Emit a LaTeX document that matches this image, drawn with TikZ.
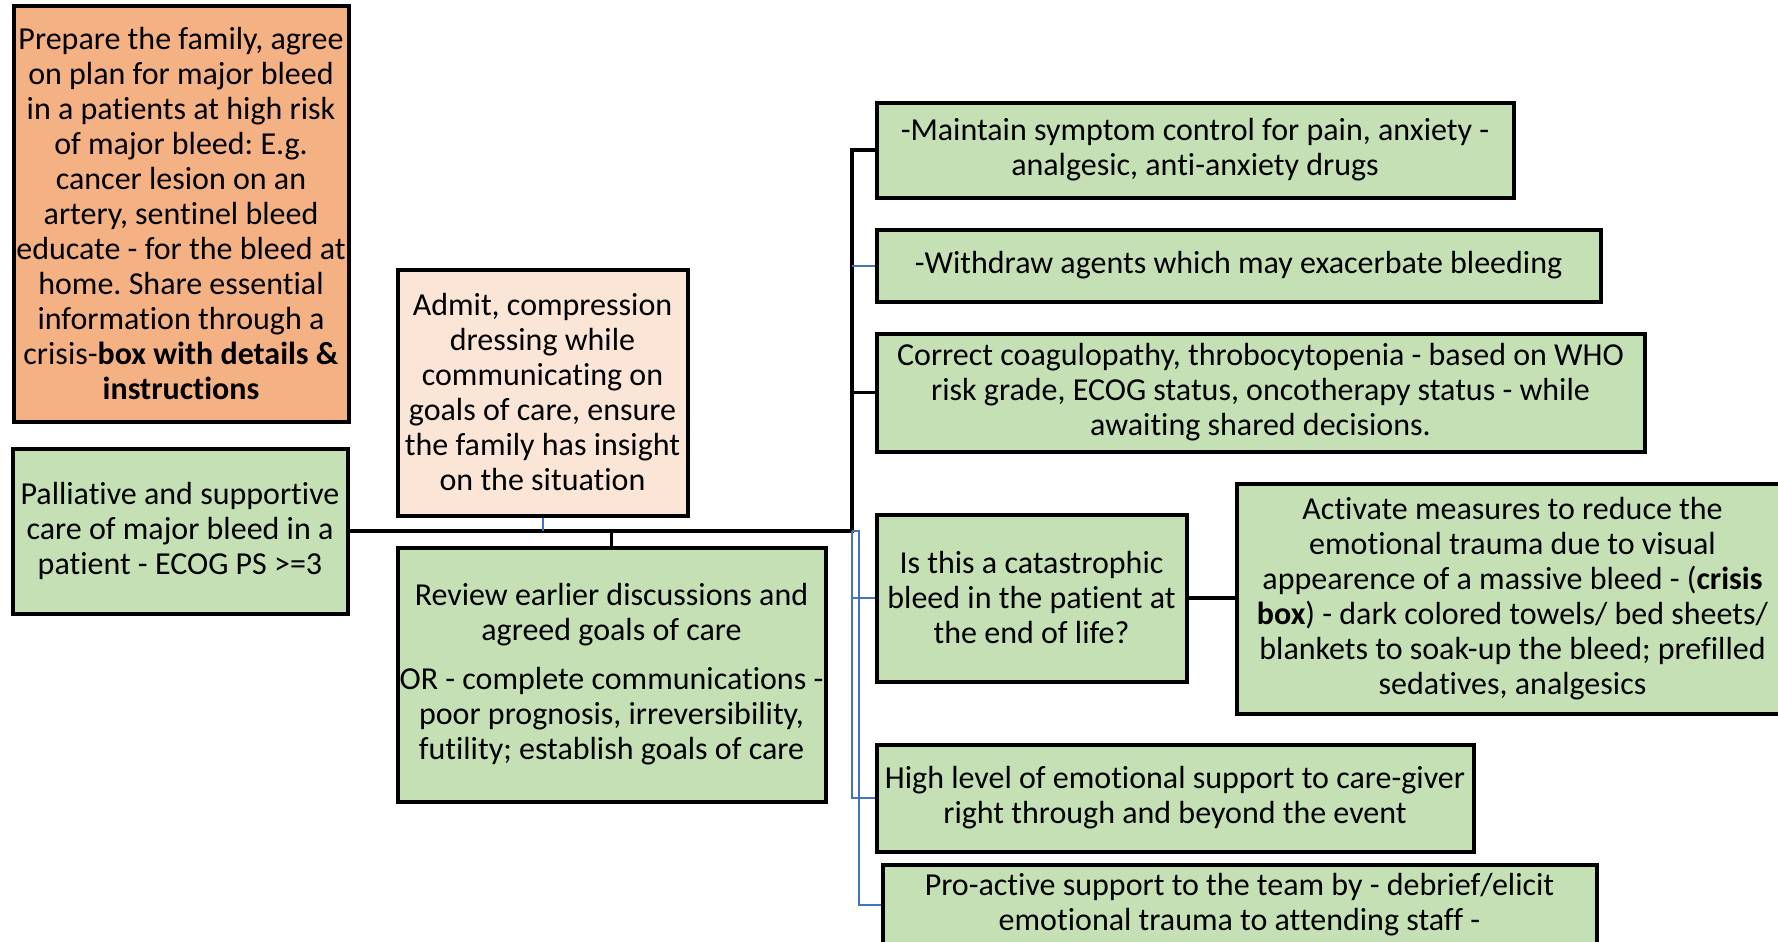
\documentclass[tikz,border=0pt]{standalone}
\usepackage{fontspec}
\setmainfont{Carlito}[Ligatures=NoCommon]
\frenchspacing
\definecolor{orangefill}{HTML}{F4B183}
\definecolor{peachfill}{HTML}{FBE5D6}
\definecolor{greenfill}{HTML}{C5E0B4}
\definecolor{linkblue}{HTML}{4472C4}

\begin{document}
\begin{tikzpicture}[x=1pt,y=-1pt,
  box/.style={draw=black, line width=4pt, align=center, inner sep=0pt,
    font=\fontsize{32}{35}\selectfont},
  trunk/.style={draw=black, line width=3.5pt},
  twig/.style={draw=linkblue, line width=2pt}]
\useasboundingbox (0,0) rectangle (1778,942);
\node[box, fill=orangefill, minimum width=335pt, minimum height=415pt] (prep) at (181,214)
  {Prepare the family, agree\\ on plan for major bleed\\ in a patients at high risk\\ of major bleed: E.g.\\ cancer lesion on an\\ artery, sentinel bleed\\ educate - for the bleed at\\ home. Share essential\\ information through a\\ crisis-\textbf{box with details \&}\\ \textbf{instructions}};
\node[box, fill=peachfill, minimum width=290pt, minimum height=246pt] (admit) at (542.5,392.5)
  {Admit, compression\\ dressing while\\ communicating on\\ goals of care, ensure\\ the family has insight\\ on the situation};
\node[box, fill=greenfill, minimum width=335pt, minimum height=165pt] (root) at (180,531)
  {Palliative and supportive\\ care of major bleed in a\\ patient - ECOG PS >=3};
\node[box, fill=greenfill, minimum width=428pt, minimum height=254pt] (review) at (611.5,674.5)
  {Review earlier discussions and\\ agreed goals of care\\[14pt] OR - complete communications -\\ poor prognosis, irreversibility,\\ futility; establish goals of care};
\node[box, fill=greenfill, minimum width=637pt, minimum height=95pt] (symp) at (1195,150)
  {-Maintain symptom control for pain, anxiety -\\ analgesic, anti-anxiety drugs};
\node[box, fill=greenfill, minimum width=724pt, minimum height=72pt] (withdraw) at (1238.5,265.5)
  {-Withdraw agents which may exacerbate bleeding};
\node[box, fill=greenfill, minimum width=768pt, minimum height=118pt] (coag) at (1260.5,392.5)
  {Correct coagulopathy, throbocytopenia - based on WHO\\ risk grade, ECOG status, oncotherapy status - while\\ awaiting shared decisions.};
\node[box, fill=greenfill, minimum width=310pt, minimum height=167pt] (catas) at (1031.5,598)
  {Is this a catastrophic\\ bleed in the patient at\\ the end of life?};
\node[box, fill=greenfill, minimum width=552pt, minimum height=230pt] (activate) at (1512.5,598.5)
  {Activate measures to reduce the\\ emotional trauma due to visual\\ appearence of a massive bleed - (\textbf{crisis}\\ \textbf{box}) - dark colored towels/ bed sheets/\\ blankets to soak-up the bleed; prefilled\\ sedatives, analgesics};
\node[box, fill=greenfill, minimum width=597pt, minimum height=107pt] (emo) at (1175,798)
  {High level of emotional support to care-giver\\ right through and beyond the event};
\node[box, fill=greenfill, minimum width=714pt, minimum height=80pt] (team) at (1239.5,905)
  {Pro-active support to the team by - debrief/elicit\\ emotional trauma to attending staff -};
\coordinate (hub) at (852,531);
\draw[trunk] (root.east) -- (hub) |- (symp.west);
\draw[trunk] (hub) |- (coag.west);
\draw[trunk] (review.north) -- (review.north |- hub);
\draw[trunk] (catas.east) -- (activate.west |- catas.east);
\draw[twig] (admit.south) -- (admit.south |- hub);
\draw[twig] (hub |- withdraw.west) -- (withdraw.west);
\draw[twig] (hub) |- (emo.west);
\draw[twig] (hub |- catas.west) -- (catas.west);
\draw[twig] (hub) -- ++(7,0) |- (team.west);
\end{tikzpicture}
\end{document}
